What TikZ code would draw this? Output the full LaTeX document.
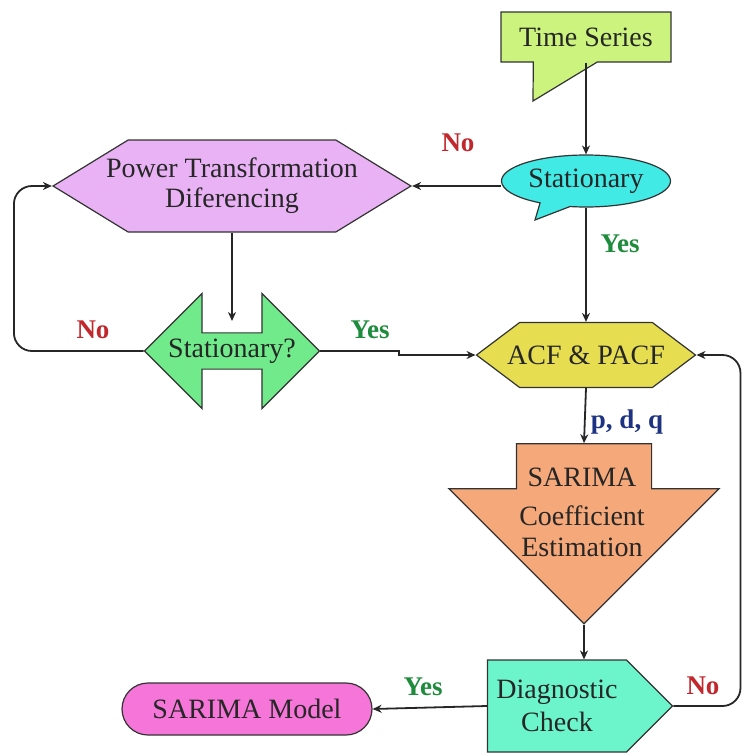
\documentclass[tikz,border=0pt]{standalone}
\usepackage{fontspec}
\setmainfont{Liberation Serif}
\usetikzlibrary{arrows.meta,positioning,calc,shapes.geometric,shapes.callouts,shapes.arrows,shapes.symbols,shapes.misc}
\definecolor{tsgreen}{RGB}{204,243,125}
\definecolor{stcyan}{RGB}{66,234,230}
\definecolor{ptviolet}{RGB}{232,178,245}
\definecolor{sqgreen}{RGB}{112,234,138}
\definecolor{acfyellow}{RGB}{230,222,80}
\definecolor{sarsalmon}{RGB}{245,168,122}
\definecolor{dcaqua}{RGB}{108,245,202}
\definecolor{mdlpink}{RGB}{245,117,216}
\definecolor{yesgreen}{RGB}{30,140,60}
\definecolor{nored}{RGB}{192,40,45}
\definecolor{pdqblue}{RGB}{30,50,130}
\tikzset{
  box/.style={draw=black!80, line width=0.6pt, align=center, inner sep=0pt,
    font=\fontsize{14}{15}\selectfont, text=black!85},
  flowln/.style={-{Stealth[length=4.5pt,width=4pt]}, line width=0.9pt, black!85},
  yeslbl/.style={font=\fontsize{13.5}{14}\selectfont\bfseries, text=yesgreen},
  nolbl/.style={font=\fontsize{13.5}{14}\selectfont\bfseries, text=nored},
}
\begin{document}
\begin{tikzpicture}[x=0.5pt,y=-0.5pt]
  \useasboundingbox (0,0) rectangle (746,756);
  % ----- pointer tips of the callouts -----
  \coordinate (tsTip) at (533,101);
  \coordinate (stTip) at (535,220);
  % ----- boxes -----
  \node[box, rectangle callout, fill=tsgreen, minimum width=85pt, minimum height=25pt,
    callout absolute pointer={(tsTip)}, callout pointer width=32pt] (ts) at (586,37) {Time Series};
  \node[box, ellipse callout, fill=stcyan, minimum width=84.5pt, minimum height=26pt,
    callout absolute pointer={(stTip)}, callout pointer arc=22] (st) at (586,181) {Stationary};
  \node[box, signal, signal to=east and west, signal pointer angle=63, fill=ptviolet,
    inner xsep=-11pt, minimum height=46pt] (pt) at (232,186) {Power Transformation\\Diferencing};
  \node[box, double arrow, double arrow head extend=14pt, fill=sqgreen,
    minimum width=57.5pt, minimum height=87.5pt] (sq) at (232,351) {Stationary?};
  \node[box, signal, signal to=east and west, signal pointer angle=74, fill=acfyellow,
    inner xsep=-6.25pt, minimum height=32.5pt] (acf) at (586,355) {ACF \& PACF};
  \node[box, single arrow, shape border rotate=270, single arrow head extend=33.75pt, fill=sarsalmon,
    inner xsep=33.5pt, inner ysep=0pt, minimum height=90pt] (sar) at (584,500) {};
  \node[align=center, font=\fontsize{14}{15.5}\selectfont, text=black!85] (sartxt) at (582,512)
    {SARIMA\\[4pt]Coefficient\\Estimation};
  \node[box, signal, signal to=east, signal pointer angle=90, fill=dcaqua,
    minimum width=92.5pt, minimum height=46pt, font=\fontsize{14}{16.5}\selectfont] (dc) at (557,706) {Diagnostic\\Check};
  \node[box, rounded rectangle, fill=mdlpink, minimum width=125pt, minimum height=26pt] (mdl) at (247,709) {SARIMA Model};
  % ----- connectors -----
  \coordinate (sqtop) at (232,321);
  \draw[flowln] (ts.south) -- (st.north);
  \draw[flowln] (st.west |- pt.east) -- (pt.east);
  \draw[flowln] (st.south) -- (acf.north);
  \draw[flowln] (pt.south) -- (sqtop);
  \draw[flowln] (sq.east) -- ++(79,0) |- (acf.west);
  \draw[flowln, rounded corners=9pt] (sq.west) -| ([xshift=-19pt]pt.west) -- (pt.west);
  \draw[flowln] (acf.south) -- (sar.tail);
  \draw[flowln] (sar.tip) -- (sar.tip |- dc.north);
  \draw[flowln] (dc.west) -- (mdl.east);
  \draw[flowln, rounded corners=9pt] (dc.east) -| ([xshift=22pt]acf.east) -- (acf.east);
  % ----- labels -----
  \node[nolbl] (no1) at (458,143) {No};
  \node[yeslbl] (yes1) at (620,244) {Yes};
  \node[nolbl] (no2) at (93,330) {No};
  \node[yeslbl] (yes2) at (370,330) {Yes};
  \node[font=\fontsize{13.5}{14}\selectfont\bfseries, text=pdqblue] (pdq) at (627,422) {p, d, q};
  \node[yeslbl] (yes3) at (423,687) {Yes};
  \node[nolbl] (no3) at (703,686) {No};
\end{tikzpicture}
\end{document}
